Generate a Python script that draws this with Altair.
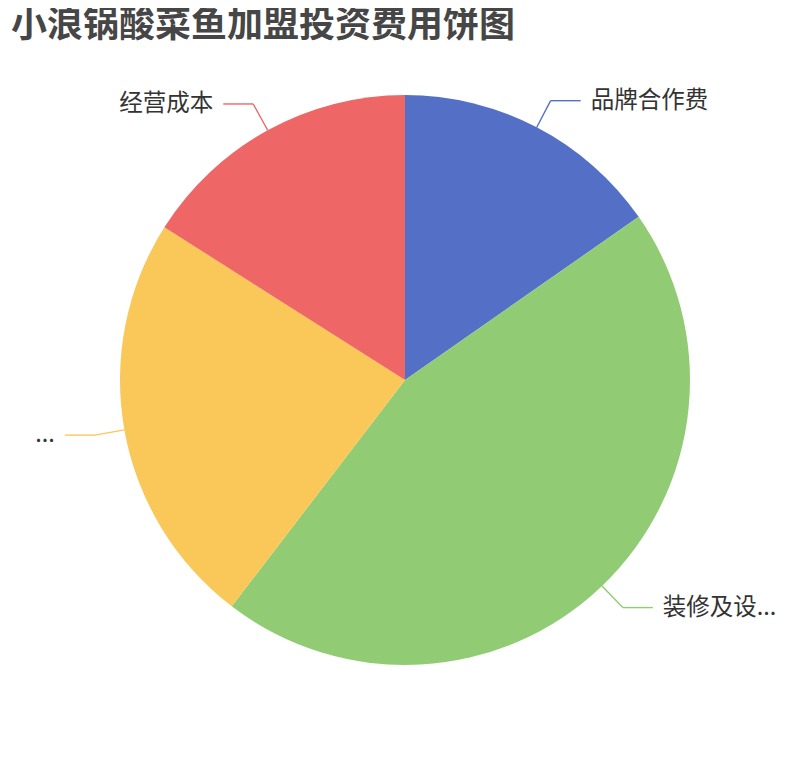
import altair as alt
import pandas as pd

# data
labels = ["品牌合作费", "装修及设...", "...", "经营成本"]
values = [15.3, 45.1, 23.6, 16.0]
colors = ["#5470c6", "#91cc75", "#fac858", "#ee6666"]
title_text = "小浪锅酸菜鱼加盟投资费用饼图"

df = pd.DataFrame({"label": labels, "value": values, "idx": list(range(len(labels)))})

# geometry (style) constants, in view pixels
PAD_TOP = 60
CX, CY, R = 397, 380 - 8 - PAD_TOP, 285
L1, L2, GAP = 30, 30, 10
W, H = 794, 760 - 16 - PAD_TOP

base = alt.Chart(df)

col = alt.Color("label:N", scale=alt.Scale(domain=labels, range=colors), legend=None)

pie = base.mark_arc(outerRadius=R).encode(
    theta=alt.Theta("value:Q", stack=True),
    order=alt.Order("idx:Q"),
    color=col,
    x=alt.value(CX),
    y=alt.value(CY),
)

geo = base.transform_joinaggregate(total="sum(value)").transform_window(
    cum="sum(value)", sort=[alt.SortField("idx")], frame=[None, 0]
).transform_calculate(
    mid="2*PI*(datum.cum - datum.value/2)/datum.total"
).transform_calculate(
    sx=f"{CX} + {R}*sin(datum.mid)",
    sy=f"{CY} - {R}*cos(datum.mid)",
    ex=f"{CX} + {R + L1}*sin(datum.mid)",
    ey=f"{CY} - {R + L1}*cos(datum.mid)",
    side="sin(datum.mid) >= 0 ? 1 : -1",
).transform_calculate(
    hx=f"datum.ex + datum.side*{L2}",
    tx=f"datum.ex + datum.side*{L2 + GAP}",
)

seg1 = geo.mark_rule(strokeWidth=1.4).encode(
    x=alt.X("sx:Q", scale=None), y=alt.Y("sy:Q", scale=None),
    x2="ex:Q", y2="ey:Q", color=col,
)
seg2 = geo.mark_rule(strokeWidth=1.4).encode(
    x=alt.X("ex:Q", scale=None), y=alt.Y("ey:Q", scale=None),
    x2="hx:Q", y2="ey:Q", color=col,
)

txt_kw = dict(fontSize=23.5, font="Noto Sans CJK SC", color="#333333", baseline="middle")
txt_r = geo.transform_filter("datum.side > 0").mark_text(align="left", **txt_kw).encode(
    x=alt.X("tx:Q", scale=None), y=alt.Y("ey:Q", scale=None), text="label:N"
)
txt_l = geo.transform_filter("datum.side < 0").mark_text(align="right", **txt_kw).encode(
    x=alt.X("tx:Q", scale=None), y=alt.Y("ey:Q", scale=None), text="label:N"
)

chart = alt.layer(pie, seg1, seg2, txt_r, txt_l).properties(
    width=W, height=H,
    autosize=alt.AutoSizeParams(type="none"),
    padding={"left": 0, "top": PAD_TOP, "right": 0, "bottom": 0},
    title=alt.TitleParams(
        title_text, anchor="start", fontSize=36, fontWeight="bold",
        font="Noto Sans CJK SC", color="#464646", offset=23, dx=3,
    ),
).configure_view(stroke=None)

chart.save("out.html", embed_options={"renderer": "svg", "actions": False})
